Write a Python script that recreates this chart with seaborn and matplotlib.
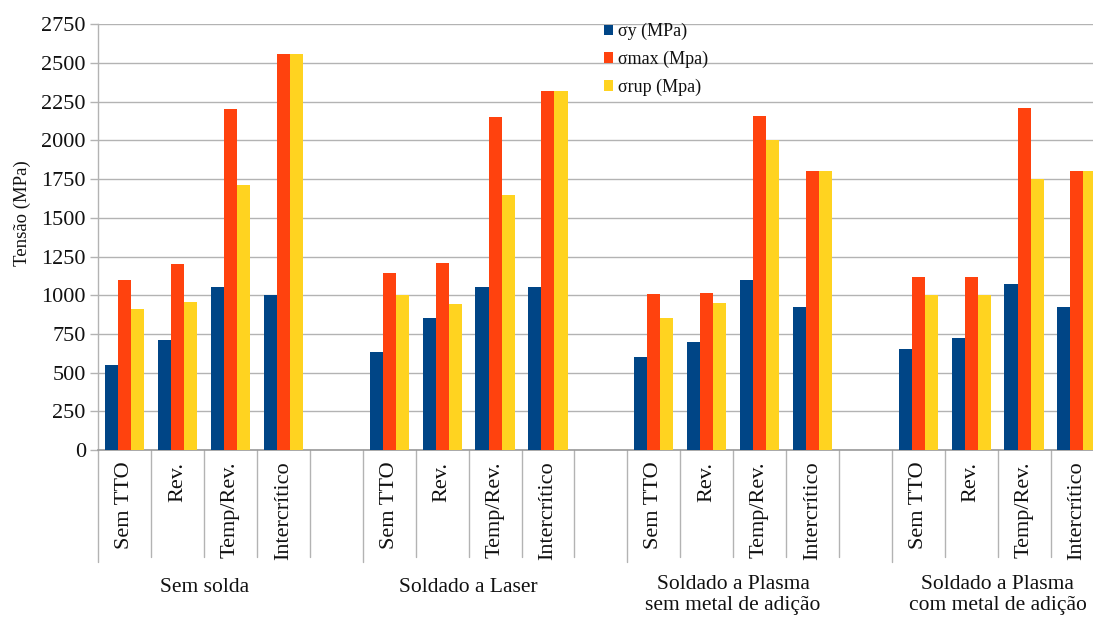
import numpy as np
import pandas as pd
import matplotlib
matplotlib.use("Agg")
import matplotlib.pyplot as plt
import matplotlib.transforms as mtransforms
import seaborn as sns

# ---- data -------------------------------------------------------------
groups = [
    "Sem solda",
    "Soldado a Laser",
    "Soldado a Plasma\nsem metal de adição",
    "Soldado a Plasma\ncom metal de adição",
]
treatments = ["Sem TTO", "Rev.", "Temp/Rev.", "Intercrítico"]
series = ["σy (MPa)", "σmax (Mpa)", "σrup (Mpa)"]

# one value per (group, treatment), groups in order
sigma_y = [550, 710, 1055, 1000,
           630, 850, 1055, 1055,
           600, 695, 1100, 925,
           650, 725, 1075, 925]
sigma_max = [1100, 1200, 2200, 2560,
             1145, 1205, 2150, 2320,
             1010, 1015, 2155, 1805,
             1120, 1120, 2210, 1805]
sigma_rup = [910, 955, 1715, 2560,
             1000, 940, 1650, 2320,
             850, 950, 2000, 1805,
             1000, 1000, 1750, 1805]

yticks = list(range(0, 2751, 250))
colors = ["#004586", "#ff420e", "#ffd320"]

# ---- long-form table --------------------------------------------------
rows = []
for s_name, vals in zip(series, [sigma_y, sigma_max, sigma_rup]):
    k = 0
    for gi, g in enumerate(groups):
        for t in treatments:
            rows.append({"slot": f"{gi}|{t}", "serie": s_name, "valor": vals[k]})
            k += 1
df = pd.DataFrame(rows)

# category slots, with an empty slot closing each group
order, tick_text = [], []
for gi in range(len(groups)):
    for t in treatments:
        order.append(f"{gi}|{t}")
        tick_text.append(t)
    order.append(f"{gi}|vazio")
    tick_text.append("")

# ---- figure -------------------------------------------------------------
sns.set_style("white")
plt.rcParams["font.family"] = ["Liberation Serif", "DejaVu Serif"]
plt.rcParams["text.color"] = "#111111"

W, H = 1093, 619
fig = plt.figure(figsize=(W / 100, H / 100), dpi=100)
ax_left, ax_right, ax_top, ax_bottom = 98.3, 1093, 24.3, 450
ax = fig.add_axes([ax_left / W, 1 - ax_bottom / H,
                   (ax_right - ax_left) / W, (ax_bottom - ax_top) / H])
ax_h_px = ax_bottom - ax_top

sns.barplot(data=df, x="slot", y="valor", hue="serie", order=order,
            hue_order=series, palette=colors, saturation=1, width=0.74,
            linewidth=0, edgecolor="none", ax=ax, zorder=3)

slot_px = 52.9
x_lo, x_hi = -0.5, -0.5 + (ax_right - ax_left) / slot_px

ax.set_ylim(0, 2750)
ax.set_yticks(yticks)
ax.set_yticklabels([str(v) for v in yticks], fontsize=16, color="#111111")

grid_c = "#b3b3b3"
ax.yaxis.grid(True, color=grid_c, linewidth=1.0, zorder=0)
ax.xaxis.grid(False)
ax.tick_params(axis="y", length=6, width=1.0, color=grid_c, pad=3, left=True)

ax.set_xticks(range(len(order)))
ax.set_xticklabels(tick_text, rotation=90, fontsize=16, va="top", ha="center",
                   color="#111111")
ax.tick_params(axis="x", length=0, pad=8.5)

for side in ["top", "right"]:
    ax.spines[side].set_visible(False)
ax.spines["left"].set_color(grid_c)
ax.spines["left"].set_linewidth(1.0)
ax.spines["bottom"].set_color("#9a9a9a")
ax.spines["bottom"].set_linewidth(1.2)

ax.set_xlabel("")
ax.set_ylabel("Tensão (MPa)", fontsize=13.5, va="center", color="#111111")
ax.yaxis.set_label_coords((22 - ax_left) / (ax_right - ax_left),
                          (ax_bottom - 213) / ax_h_px)

# separators of the two-level category axis
trans = mtransforms.blended_transform_factory(ax.transData, ax.transAxes)
n_slots = len(order)
for k in range(n_slots + 1):
    xb = k - 0.5
    if xb > x_hi:
        break
    long_line = (k % 5 == 0)
    depth_px = 112 if long_line else 107
    ax.plot([xb, xb], [0, -depth_px / ax_h_px], transform=trans,
            color=grid_c, linewidth=1.0, clip_on=False, zorder=1,
            scalex=False, scaley=False)

# group captions under each block of four treatments
for gi, g in enumerate(groups):
    xc = gi * 5 + 1.5
    two_lines = "\n" in g
    yc_px = 595 if two_lines else 588
    ax.text(xc, -(yc_px - ax_bottom) / ax_h_px, g, transform=trans,
            ha="center", va="center", fontsize=15.5, linespacing=1.1,
            color="#111111", clip_on=False)

# legend
sns.move_legend(ax, "upper left", bbox_to_anchor=(604 / W, 1 - 23 / H),
                bbox_transform=fig.transFigure, frameon=False, title=None,
                fontsize=13, handlelength=0.5, handleheight=0.5,
                handletextpad=0.25, labelspacing=0.58, borderpad=0,
                borderaxespad=0)

ax.set_autoscale_on(False)
ax.set_xlim(x_lo, x_hi)

fig.savefig("out.png", dpi=100, facecolor="white")
